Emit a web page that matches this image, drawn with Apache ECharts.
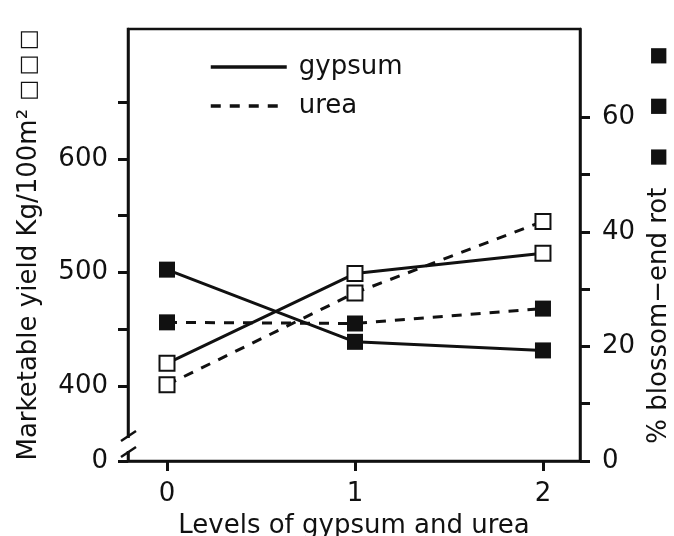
<!DOCTYPE html>
<html>
<head>
<meta charset="utf-8">
<script src="https://cdn.jsdelivr.net/npm/echarts@6/dist/echarts.min.js"></script>
<style>
  html, body { margin: 0; padding: 0; background: #fff; }
  #chart { width: 674px; height: 536px; }
</style>
</head>
<body>
<div id="chart"></div>
<script>
// levels of gypsum / urea on the x axis
const levels = [0, 1, 2]

// marketable yield, kg/100m2 (open squares, left axis)
const gypsumYield = [420, 499, 517]
const ureaYield = [401, 482, 545]

// % blossom-end rot (filled squares, right axis)
const gypsumRot = [33.4, 20.8, 19.3]
const ureaRot = [24.2, 24.0, 26.6]

// axis ticks / labels
const yieldTicks = [400, 450, 500, 550, 600, 650]
const yieldLabels = [400, 500, 600]
const rotTicks = [0, 10, 20, 30, 40, 50, 60]
const rotLabels = [0, 20, 40, 60]

// left axis is broken: its bottom edge is labelled 0
const yieldMin = 333.9
const yieldMax = 714.5
const rotMax = 75.4

const font = 'DejaVu Sans'
const ink = '#111'
const dash = [10, 9]

const pairs = vals => levels.map((x, i) => [x, vals[i]])

const openSquare = { color: '#fff', borderColor: ink, borderWidth: 2 }
const fullSquare = { color: ink, borderColor: ink, borderWidth: 0 }

const chart = echarts.init(document.getElementById('chart'))

chart.setOption({
  animation: false,
  backgroundColor: '#fff',
  textStyle: { fontFamily: font, color: ink },
  grid: {
    left: 128, right: 94, top: 29, bottom: 75,
    outerBoundsMode: 'none',
    containLabel: false,
    show: true, borderColor: ink, borderWidth: 2.5
  },
  legend: {
    orient: 'vertical',
    left: 204,
    top: 49,
    itemWidth: 76,
    itemHeight: 25,
    itemGap: 13,
    data: ['gypsum', 'urea'],
    itemStyle: { opacity: 0 },
    lineStyle: { width: 3.5 },
    textStyle: { fontFamily: font, fontSize: 26, color: ink, padding: [0, 0, 0, 7] }
  },
  xAxis: {
    type: 'value',
    min: -0.2075,
    max: 2.197,
    name: 'Levels of gypsum and urea',
    nameLocation: 'middle',
    nameGap: 52,
    nameTextStyle: { fontFamily: font, fontSize: 26, color: ink },
    axisLine: { show: true, onZero: false, lineStyle: { color: ink, width: 2.5 } },
    axisTick: { show: true, length: 10, customValues: levels, lineStyle: { color: ink, width: 3 } },
    axisLabel: { customValues: levels, margin: 20, fontFamily: font, fontSize: 26, color: ink },
    splitLine: { show: false }
  },
  yAxis: [
    {
      type: 'value',
      position: 'left',
      min: yieldMin,
      max: yieldMax,
      name: 'Marketable yield Kg/100m\u00b2 {sq|\u25a1\u2009\u25a1\u2009\u25a1}',
      nameLocation: 'middle',
      nameGap: 86,
      nameRotate: 90,
      nameTextStyle: {
        fontFamily: font, fontSize: 26, color: ink,
        rich: { sq: { fontFamily: font, fontSize: 22, color: ink } }
      },
      axisLine: { show: true, onZero: false, lineStyle: { color: ink, width: 2.5 } },
      axisTick: { show: true, length: 10, customValues: [yieldMin].concat(yieldTicks), lineStyle: { color: ink, width: 3 } },
      axisLabel: {
        customValues: [yieldMin].concat(yieldLabels),
        formatter: v => (v === yieldMin ? '0' : String(v)),
        margin: 20, fontFamily: font, fontSize: 26, color: ink
      },
      splitLine: { show: false }
    },
    {
      type: 'value',
      position: 'right',
      min: 0,
      max: rotMax,
      name: '% blossom\u2212end rot {sq|  \u25a0     \u25a0     \u25a0}',
      nameLocation: 'middle',
      nameGap: 66,
      nameRotate: 90,
      nameTextStyle: {
        fontFamily: font, fontSize: 26, color: ink,
        rich: { sq: { fontFamily: font, fontSize: 20, color: ink } }
      },
      axisLine: { show: true, onZero: false, lineStyle: { color: ink, width: 2.5 } },
      axisTick: { show: true, length: 10, customValues: rotTicks, lineStyle: { color: ink, width: 3 } },
      axisLabel: { customValues: rotLabels, margin: 22, fontFamily: font, fontSize: 26, color: ink },
      splitLine: { show: false }
    }
  ],
  series: [
    {
      name: 'gypsum', type: 'line', yAxisIndex: 0,
      data: pairs(gypsumYield),
      symbol: 'rect', symbolSize: 15,
      lineStyle: { color: ink, width: 3 },
      itemStyle: openSquare, z: 3
    },
    {
      name: 'urea', type: 'line', yAxisIndex: 0,
      data: pairs(ureaYield),
      symbol: 'rect', symbolSize: 15,
      lineStyle: { color: ink, width: 3, type: dash },
      itemStyle: openSquare, z: 3
    },
    {
      name: 'gypsum', type: 'line', yAxisIndex: 1,
      data: pairs(gypsumRot),
      symbol: 'rect', symbolSize: 16,
      lineStyle: { color: ink, width: 3 },
      itemStyle: fullSquare, z: 2
    },
    {
      name: 'urea', type: 'line', yAxisIndex: 1,
      data: pairs(ureaRot),
      symbol: 'rect', symbolSize: 16,
      lineStyle: { color: ink, width: 3, type: dash },
      itemStyle: fullSquare, z: 2
    }
  ],
  // axis break marks on the left axis
  graphic: [
    { type: 'rect', shape: { x: 124, y: 438, width: 8, height: 13 }, style: { fill: '#fff' }, z: 100 },
    { type: 'line', shape: { x1: 121, y1: 441, x2: 136, y2: 431 }, style: { stroke: ink, lineWidth: 2.5 }, z: 101 },
    { type: 'line', shape: { x1: 121, y1: 457, x2: 136, y2: 447 }, style: { stroke: ink, lineWidth: 2.5 }, z: 101 }
  ]
})

window.addEventListener('resize', () => chart.resize())
</script>
</body>
</html>
